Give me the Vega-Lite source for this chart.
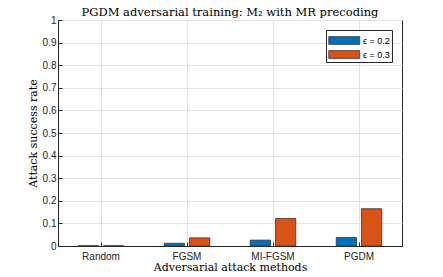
{
  "$schema": "https://vega.github.io/schema/vega-lite/v6.json",
  "width": 344,
  "height": 226,
  "autosize": "none",
  "padding": {"left": 58, "top": 20, "right": 41, "bottom": 31},
  "background": "white",
  "title": {
    "text": "PGDM adversarial training: M₂ with MR precoding",
    "font": "DejaVu Serif",
    "fontSize": 11.5,
    "fontWeight": "normal",
    "color": "#000000",
    "offset": -3
  },
  "config": {
    "view": {"stroke": "#262626", "strokeWidth": 1},
    "axis": {
      "labelFont": "Liberation Sans",
      "labelFontSize": 10,
      "labelColor": "#262626",
      "titleFont": "DejaVu Serif",
      "titleFontSize": 11,
      "titleFontWeight": "normal",
      "titleColor": "#000000",
      "domainColor": "#262626",
      "tickColor": "#262626",
      "gridColor": "#e3e3e3",
      "gridOpacity": 1
    }
  },
  "data": {
    "values": [
      {"method": "Random", "eps": "ϵ = 0.2", "rate": 0.001},
      {"method": "Random", "eps": "ϵ = 0.3", "rate": 0.001},
      {"method": "FGSM", "eps": "ϵ = 0.2", "rate": 0.012},
      {"method": "FGSM", "eps": "ϵ = 0.3", "rate": 0.036},
      {"method": "MI-FGSM", "eps": "ϵ = 0.2", "rate": 0.026},
      {"method": "MI-FGSM", "eps": "ϵ = 0.3", "rate": 0.122},
      {"method": "PGDM", "eps": "ϵ = 0.2", "rate": 0.038},
      {"method": "PGDM", "eps": "ϵ = 0.3", "rate": 0.165}
    ]
  },
  "mark": {"type": "bar", "stroke": "#333333", "strokeWidth": 0.8},
  "encoding": {
    "x": {
      "field": "method",
      "type": "nominal",
      "sort": ["Random", "FGSM", "MI-FGSM", "PGDM"],
      "scale": {"paddingInner": 0, "paddingOuter": 0},
      "axis": {
        "title": "Adversarial attack methods",
        "labelAngle": 0,
        "labelPadding": 9,
        "tickSize": -4,
        "grid": true,
        "bandPosition": 0.5,
        "titlePadding": 0
      }
    },
    "xOffset": {
      "field": "eps",
      "type": "nominal",
      "scale": {"paddingInner": 0.2, "paddingOuter": 0.8}
    },
    "y": {
      "field": "rate",
      "type": "quantitative",
      "scale": {"domain": [0, 1]},
      "axis": {
        "title": "Attack success rate",
        "values": [0, 0.1, 0.2, 0.3, 0.4, 0.5, 0.6, 0.7, 0.8, 0.9, 1],
        "labelExpr": "datum.value == 0 ? '0' : datum.value == 1 ? '1' : format(datum.value, '.1f')",
        "tickSize": -4,
        "grid": true,
        "labelPadding": 6,
        "titlePadding": 4
      }
    },
    "color": {
      "field": "eps",
      "type": "nominal",
      "scale": {"range": ["#0072BD", "#D95319"]},
      "legend": {
        "title": null,
        "orient": "none",
        "legendX": 268,
        "legendY": 10,
        "symbolType": "M-1,-0.5H3V0.5H-1Z",
        "symbolSize": 240,
        "symbolStrokeColor": "#333333",
        "symbolStrokeWidth": 0.8,
        "symbolOpacity": 1,
        "labelFont": "Liberation Sans",
        "labelFontSize": 9,
        "labelColor": "#000000",
        "strokeColor": "#262626",
        "fillColor": "white",
        "padding": 2,
        "rowPadding": -7,
        "labelOffset": 18
      }
    }
  }
}
